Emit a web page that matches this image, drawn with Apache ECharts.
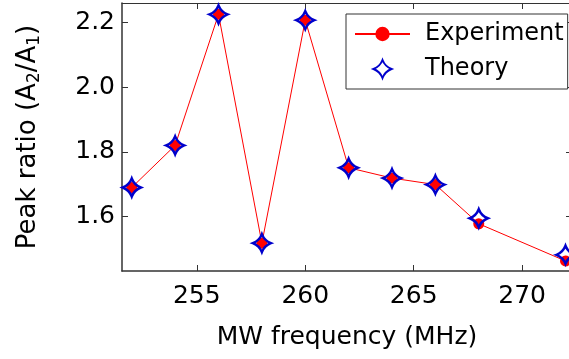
<!DOCTYPE html>
<html>
<head>
<meta charset="utf-8">
<script src="https://cdn.jsdelivr.net/npm/echarts@6/dist/echarts.min.js"></script>
<style>html,body{margin:0;padding:0;background:#fff;}#c{width:569px;height:359px;}</style>
</head>
<body>
<div id="c"></div>
<script>
var frequencies = [252, 254, 256, 258, 260, 262, 264, 266, 268, 272];
var experiment = [1.690, 1.820, 2.225, 1.518, 2.207, 1.751, 1.719, 1.699, 1.578, 1.463];
var theory = [1.690, 1.820, 2.225, 1.518, 2.207, 1.751, 1.719, 1.699, 1.595, 1.482];
var xTicks = [255, 260, 265, 270];
var yTicks = [1.6, 1.8, 2.0, 2.2];

var FONT = 'DejaVu Sans';
var AX = '#333333';
var starPath = 'path://M0,-10 Q2.8,-2.8 10,0 Q2.8,2.8 0,10 Q-2.8,2.8 -10,0 Q-2.8,-2.8 0,-10 Z';

function pairs(xs, ys){ return xs.map(function(x,i){ return [x, ys[i]]; }); }

var chart = echarts.init(document.getElementById('c'), null, {renderer:'canvas'});
var axisLineStyle = {color: AX, width: 1.5};
chart.setOption({
  animation: false,
  backgroundColor: '#fff',
  grid: {left: 122, top: 3, width: 450, height: 268, containLabel: false, outerBoundsMode: 'none'},
  xAxis: [{
    type: 'value', min: 251.55, max: 272.3, position: 'bottom',
    axisLine: {show: true, lineStyle: axisLineStyle},
    axisTick: {show: true, inside: true, length: 6, customValues: xTicks, lineStyle: {color: AX, width: 1}},
    axisLabel: {customValues: xTicks, fontFamily: FONT, fontSize: 25, color: '#000', margin: 13},
    splitLine: {show: false},
    name: 'MW frequency (MHz)', nameLocation: 'middle', nameGap: 54,
    nameTextStyle: {fontFamily: FONT, fontSize: 25, color: '#000'}
  }, {
    type: 'value', min: 251.55, max: 272.3, position: 'top',
    axisLine: {show: true, lineStyle: {color: AX, width: 1}},
    axisTick: {show: true, inside: true, length: 6, customValues: xTicks, lineStyle: {color: AX, width: 1}},
    axisLabel: {show: false}, splitLine: {show: false}
  }],
  yAxis: [{
    type: 'value', min: 1.432, max: 2.26, position: 'left',
    axisLine: {show: true, lineStyle: axisLineStyle},
    axisTick: {show: true, inside: true, length: 6, customValues: yTicks, lineStyle: {color: AX, width: 1}},
    axisLabel: {customValues: yTicks, fontFamily: FONT, fontSize: 25, color: '#000', margin: 7,
      formatter: function(v){ return v.toFixed(1); }},
    splitLine: {show: false},
    name: 'Peak ratio (A{s|2}/A{s|1})', nameLocation: 'middle', nameGap: 79, nameRotate: 90,
    nameTextStyle: {fontFamily: FONT, fontSize: 26, color: '#000',
      rich: {s: {fontFamily: FONT, fontSize: 17, color: '#000', verticalAlign: 'bottom', padding: [12, 0, 0, 0]}}}
  }, {
    type: 'value', min: 1.432, max: 2.26, position: 'right',
    axisLine: {show: true, lineStyle: {color: AX, width: 1}},
    axisTick: {show: true, inside: true, length: 6, customValues: yTicks, lineStyle: {color: AX, width: 1}},
    axisLabel: {show: false}, splitLine: {show: false}
  }],
  legend: {
    orient: 'vertical', left: 346, top: 14,
    padding: [8, 4, 8, 8], itemGap: 11, itemWidth: 55, itemHeight: 18,
    borderColor: AX, borderWidth: 1, backgroundColor: '#fff',
    textStyle: {fontFamily: FONT, fontSize: 24, color: '#000', padding: [0, 0, 0, 10]},
    data: ['Experiment', 'Theory']
  },
  series: [{
    name: 'Experiment', type: 'line', xAxisIndex: 0, yAxisIndex: 0,
    data: pairs(frequencies, experiment),
    symbol: 'circle', symbolSize: 11,
    lineStyle: {color: '#ff0000', width: 1},
    itemStyle: {color: '#ff0000', opacity: 1},
    z: 2
  }, {
    name: 'Theory', type: 'scatter', xAxisIndex: 0, yAxisIndex: 0,
    data: pairs(frequencies, theory),
    symbol: starPath, symbolSize: 18, symbolKeepAspect: true,
    itemStyle: {color: 'rgba(0,0,0,0)', borderColor: '#0000cc', borderWidth: 2.5, opacity: 1},
    z: 3
  }]
});
</script>
</body>
</html>
